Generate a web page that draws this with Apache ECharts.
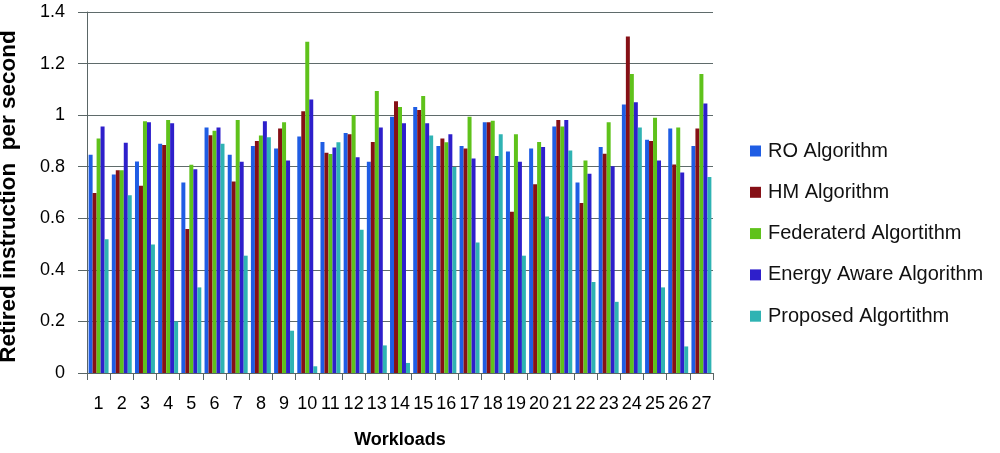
<!DOCTYPE html>
<html>
<head>
<meta charset="utf-8">
<script src="https://cdn.jsdelivr.net/npm/echarts@6/dist/echarts.min.js"></script>
<style>
html,body{margin:0;padding:0;background:#fff;}
#chart{width:1000px;height:453px;}
</style>
</head>
<body>
<div id="chart"></div>
<script>
const categories = ['1','2','3','4','5','6','7','8','9','10','11','12','13','14','15','16','17','18','19','20','21','22','23','24','25','26','27'];
const seriesNames = ['RO Algorithm','HM Algorithm','Federaterd Algortithm','Energy Aware Algorithm','Proposed Algortithm'];
const roValues   = [0.846,0.770,0.820,0.889,0.739,0.952,0.846,0.880,0.871,0.917,0.896,0.931,0.819,0.994,1.032,0.880,0.880,0.972,0.859,0.871,0.956,0.739,0.876,1.041,0.905,0.948,0.880];
const hmValues   = [0.698,0.786,0.726,0.884,0.558,0.922,0.743,0.900,0.948,1.015,0.854,0.926,0.896,1.054,1.020,0.909,0.871,0.972,0.625,0.732,0.981,0.659,0.850,1.305,0.900,0.809,0.948];
const fedValues  = [0.909,0.786,0.976,0.981,0.808,0.939,0.981,0.921,0.972,1.285,0.849,1.001,1.094,1.032,1.074,0.895,0.994,0.978,0.926,0.896,0.956,0.824,0.972,1.160,0.990,0.952,1.160];
const eaValues   = [0.956,0.893,0.972,0.969,0.790,0.952,0.819,0.976,0.824,1.061,0.875,0.837,0.952,0.969,0.969,0.926,0.832,0.842,0.819,0.876,0.981,0.773,0.802,1.050,0.824,0.778,1.045];
const propValues = [0.519,0.689,0.498,0.200,0.332,0.889,0.455,0.914,0.164,0.026,0.895,0.556,0.107,0.039,0.921,0.799,0.506,0.926,0.455,0.607,0.863,0.353,0.276,0.952,0.332,0.103,0.760];
const yTicks = [0,0.2,0.4,0.6,0.8,1.0,1.2,1.4];

const allValues = [roValues, hmValues, fedValues, eaValues, propValues];
const colors = ['#1f5de4','#861016','#5fc21b','#2e1fcb','#2fb3b3'];

const chart = echarts.init(document.getElementById('chart'));
const font = 'Liberation Sans, Arial, sans-serif';
chart.setOption({
  animation: false,
  color: colors,
  grid: {left: 87, right: 287, top: 12, bottom: 80, containLabel: false, outerBoundsMode: 'none'},
  legend: {
    orient: 'vertical',
    left: 745,
    top: 136,
    itemWidth: 11,
    itemHeight: 11,
    itemGap: 21.3,
    icon: 'rect',
    textStyle: {fontFamily: font, fontSize: 20, color: '#111', padding: [0,0,0,2]},
    data: seriesNames
  },
  xAxis: {
    type: 'category',
    data: categories,
    name: 'Workloads',
    nameLocation: 'middle',
    nameGap: 58,
    nameTextStyle: {fontFamily: font, fontSize: 18, fontWeight: 'bold', color: '#000'},
    axisLine: {lineStyle: {color: '#5a6666', width: 1}},
    axisTick: {show: true, length: 7, lineStyle: {color: '#5a6666'}},
    axisLabel: {interval: 0, fontFamily: font, fontSize: 18, color: '#000', margin: 22}
  },
  yAxis: {
    type: 'value',
    min: 0,
    max: 1.4,
    interval: 0.2,
    name: 'Retired instruction  per second',
    nameLocation: 'middle',
    nameGap: 67,
    nameTextStyle: {fontFamily: font, fontSize: 22.5, fontWeight: 'bold', color: '#000', padding: [0,8,0,0]},
    axisLine: {show: true, lineStyle: {color: '#5a6666'}},
    axisTick: {show: true, length: 9, inside: false, lineStyle: {color: '#5a6666'}},
    splitLine: {lineStyle: {color: '#5f6b6b', width: 1}},
    axisLabel: {
      fontFamily: font, fontSize: 18, color: '#000', margin: 22,
      formatter: v => {
        const t = yTicks.find(x => Math.abs(x - v) < 1e-6);
        return t === undefined ? '' : String(Math.round(t*10)/10);
      }
    }
  },
  series: seriesNames.map((n, i) => ({
    name: n,
    type: 'bar',
    data: allValues[i],
    barGap: '0%',
    barCategoryGap: '14%',
    itemStyle: {color: colors[i]}
  }))
});
</script>
</body>
</html>
